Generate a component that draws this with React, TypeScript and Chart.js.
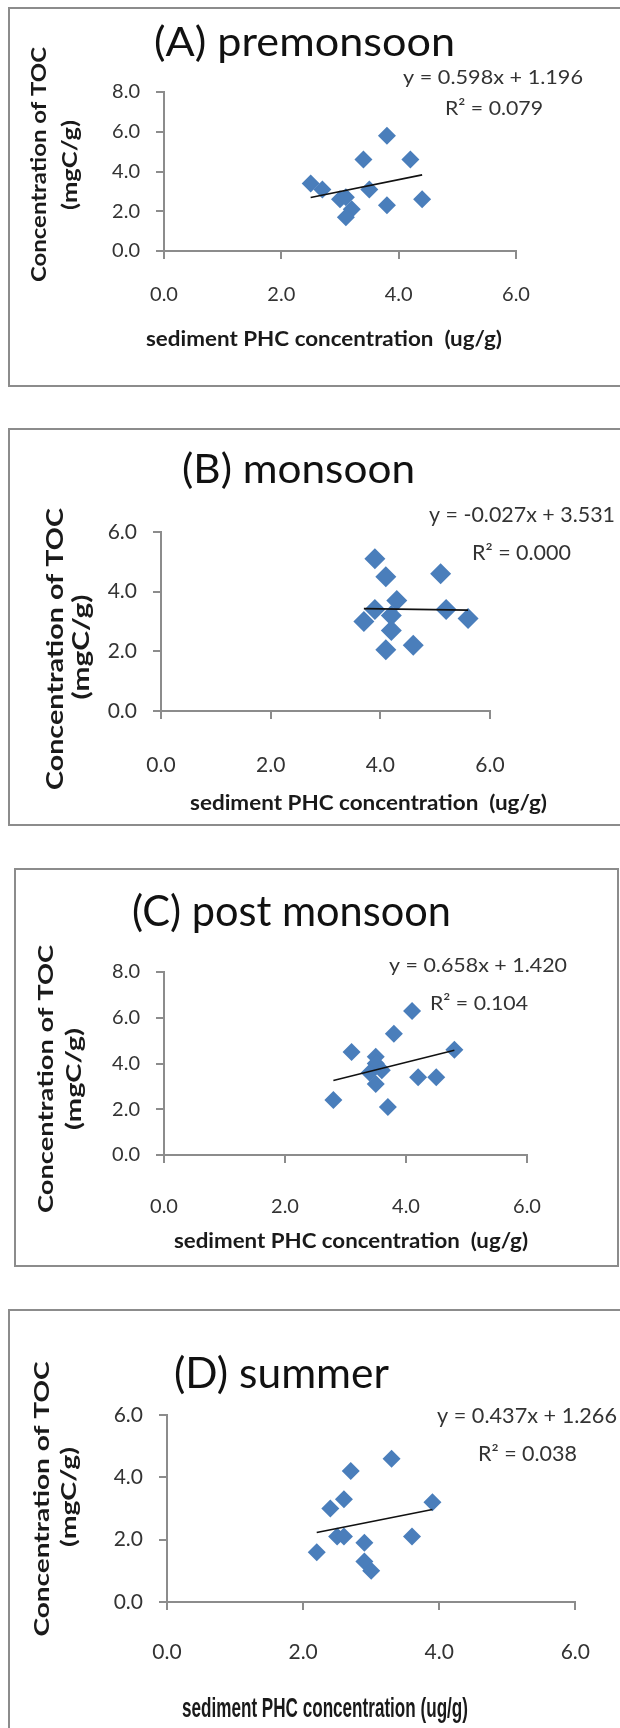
import React, { useEffect, useRef } from "react";
import { Chart, registerables } from "chart.js";

Chart.register(...registerables);

// ---------------- data ----------------
const xTickValues = [0, 2, 4, 6];
const xTickLabels = ["0.0", "2.0", "4.0", "6.0"];
const yTickValues8 = [0, 2, 4, 6, 8];
const yTickLabels8 = ["0.0", "2.0", "4.0", "6.0", "8.0"];
const yTickValues6 = [0, 2, 4, 6];
const yTickLabels6 = ["0.0", "2.0", "4.0", "6.0"];

// (A) premonsoon
const premonsoonPHC = [2.5, 2.7, 3.0, 3.1, 3.2, 3.1, 3.4, 3.5, 3.8, 3.8, 4.2, 4.4];
const premonsoonTOC = [3.4, 3.1, 2.6, 2.7, 2.1, 1.7, 4.6, 3.1, 5.8, 2.3, 4.6, 2.6];
const premonsoonTrendPHC = [2.5, 4.4];
const premonsoonTrendTOC = [2.69, 3.83];

// (B) monsoon
const monsoonPHC = [3.9, 4.1, 5.1, 3.9, 4.3, 3.7, 4.2, 4.2, 4.1, 4.6, 5.2, 5.6];
const monsoonTOC = [5.1, 4.5, 4.6, 3.4, 3.7, 3.0, 3.2, 2.7, 2.05, 2.2, 3.4, 3.1];
const monsoonTrendPHC = [3.7, 5.6];
const monsoonTrendTOC = [3.43, 3.38];

// (C) post monsoon
const postMonsoonPHC = [2.8, 3.1, 3.5, 3.5, 3.4, 3.6, 3.5, 3.8, 4.1, 3.7, 4.2, 4.5, 4.8];
const postMonsoonTOC = [2.4, 4.5, 4.3, 4.0, 3.6, 3.7, 3.1, 5.3, 6.3, 2.1, 3.4, 3.4, 4.6];
const postMonsoonTrendPHC = [2.8, 4.8];
const postMonsoonTrendTOC = [3.26, 4.58];

// (D) summer
const summerPHC = [2.2, 2.4, 2.6, 2.7, 2.5, 2.6, 2.9, 2.9, 3.0, 3.3, 3.6, 3.9];
const summerTOC = [1.6, 3.0, 3.3, 4.2, 2.1, 2.1, 1.9, 1.3, 1.0, 4.6, 2.1, 3.2];
const summerTrendPHC = [2.2, 3.9];
const summerTrendTOC = [2.23, 2.97];

// ---------------- layout / styling ----------------
const FONT = "Lato, 'Open Sans', sans-serif";
const MARKER = "#4a7ebb";
const AXIS = "#8c8c8c";

type TextItem = {
  text: string;
  x: number;
  y: number;
  size: number;
  width: number;
  bold?: boolean;
  rotate?: boolean;
  family?: string;
  color?: string;
};

type Panel = {
  key: string;
  top: number;
  height: number;
  box: { left: number; top: number; right: number; bottom: number };
  area: { left: number; right: number; top: number; bottom: number };
  yMax: number;
  yTickValues: number[];
  yTickLabels: string[];
  tickSize: number;
  xPad: number;
  radius: number;
  phc: number[];
  toc: number[];
  trendX: number[];
  trendY: number[];
  texts: TextItem[];
};

const panels: Panel[] = [
  {
    key: "A",
    top: 7,
    height: 380,
    box: { left: 8, top: 7, right: 640, bottom: 387 },
    area: { left: 164, right: 516, top: 92, bottom: 251 },
    yMax: 8,
    yTickValues: yTickValues8,
    yTickLabels: yTickLabels8,
    tickSize: 20,
    xPad: 24,
    radius: 9,
    phc: premonsoonPHC,
    toc: premonsoonTOC,
    trendX: premonsoonTrendPHC,
    trendY: premonsoonTrendTOC,
    texts: [
      { text: "(A) premonsoon", x: 304.5, y: 56, size: 41, width: 301, color: "#111" },
      { text: "y = 0.598x + 1.196", x: 493, y: 84, size: 20, width: 180, color: "#333" },
      { text: "R\u00b2 = 0.079", x: 494, y: 115, size: 20, width: 98, color: "#333" },
      { text: "Concentration of TOC", x: 46, y: 164.5, size: 21, width: 235, bold: true, rotate: true, color: "#1a1a1a" },
      { text: "(mgC/g)", x: 77, y: 165, size: 21, width: 90, bold: true, rotate: true, color: "#1a1a1a" },
      { text: "sediment PHC concentration  (ug/g)", x: 324, y: 346, size: 20, width: 356, bold: true, color: "#1a1a1a" },
    ],
  },
  {
    key: "B",
    top: 428,
    height: 398,
    box: { left: 8, top: 428, right: 640, bottom: 826 },
    area: { left: 161, right: 490, top: 532, bottom: 711 },
    yMax: 6,
    yTickValues: yTickValues6,
    yTickLabels: yTickLabels6,
    tickSize: 21,
    xPad: 34,
    radius: 10.5,
    phc: monsoonPHC,
    toc: monsoonTOC,
    trendX: monsoonTrendPHC,
    trendY: monsoonTrendTOC,
    texts: [
      { text: "(B) monsoon", x: 298.5, y: 483, size: 40, width: 233, color: "#111" },
      { text: "y = -0.027x + 3.531", x: 522, y: 522, size: 21, width: 186, color: "#333" },
      { text: "R\u00b2 = 0.000", x: 521.5, y: 560, size: 21, width: 99, color: "#333" },
      { text: "Concentration of TOC", x: 63, y: 649, size: 22, width: 282, bold: true, rotate: true, color: "#1a1a1a" },
      { text: "(mgC/g)", x: 89, y: 647, size: 22, width: 105, bold: true, rotate: true, color: "#1a1a1a" },
      { text: "sediment PHC concentration  (ug/g)", x: 368.5, y: 810, size: 21, width: 357, bold: true, color: "#1a1a1a" },
    ],
  },
  {
    key: "C",
    top: 868,
    height: 399,
    box: { left: 14, top: 868, right: 619, bottom: 1267 },
    area: { left: 164, right: 527, top: 972, bottom: 1155 },
    yMax: 8,
    yTickValues: yTickValues8,
    yTickLabels: yTickLabels8,
    tickSize: 20,
    xPad: 32,
    radius: 9,
    phc: postMonsoonPHC,
    toc: postMonsoonTOC,
    trendX: postMonsoonTrendPHC,
    trendY: postMonsoonTrendTOC,
    texts: [
      { text: "(C) post monsoon", x: 291.5, y: 926, size: 42, width: 319, color: "#111" },
      { text: "y = 0.658x + 1.420", x: 478, y: 972, size: 20, width: 178, color: "#333" },
      { text: "R\u00b2 = 0.104", x: 479, y: 1010, size: 20, width: 98, color: "#333" },
      { text: "Concentration of TOC", x: 53, y: 1079, size: 21, width: 268, bold: true, rotate: true, color: "#1a1a1a" },
      { text: "(mgC/g)", x: 81, y: 1079, size: 21, width: 102, bold: true, rotate: true, color: "#1a1a1a" },
      { text: "sediment PHC concentration  (ug/g)", x: 351, y: 1248, size: 21, width: 354, bold: true, color: "#1a1a1a" },
    ],
  },
  {
    key: "D",
    top: 1309,
    height: 419,
    box: { left: 8, top: 1309, right: 640, bottom: 1760 },
    area: { left: 167, right: 589, top: 1415, bottom: 1602 },
    yMax: 6,
    yTickValues: yTickValues6,
    yTickLabels: yTickLabels6,
    tickSize: 21,
    xPad: 30,
    radius: 9,
    phc: summerPHC,
    toc: summerTOC,
    trendX: summerTrendPHC,
    trendY: summerTrendTOC,
    texts: [
      { text: "(D) summer", x: 281.5, y: 1388, size: 42, width: 215, color: "#111" },
      { text: "y = 0.437x + 1.266", x: 527, y: 1423, size: 21, width: 180, color: "#333" },
      { text: "R\u00b2 = 0.038", x: 527.5, y: 1461, size: 21, width: 99, color: "#333" },
      { text: "Concentration of TOC", x: 49, y: 1499, size: 21, width: 275, bold: true, rotate: true, color: "#1a1a1a" },
      { text: "(mgC/g)", x: 76, y: 1497, size: 21, width: 100, bold: true, rotate: true, color: "#1a1a1a" },
      {
        text: "sediment PHC concentration (ug/g)",
        x: 325,
        y: 1717,
        size: 28,
        width: 286,
        bold: true,
        family: "'Liberation Sans Narrow', 'Liberation Sans', Arial, sans-serif",
        color: "#1a1a1a",
      },
    ],
  },
];

const PAGE_W = 620;

function makeTextPlugin(items: TextItem[], offsetY: number) {
  return {
    id: "panelText",
    afterDraw(chart: any) {
      const ctx: CanvasRenderingContext2D = chart.ctx;
      for (const t of items) {
        ctx.save();
        ctx.font = `${t.bold ? "bold " : ""}${t.size}px ${t.family || FONT}`;
        ctx.fillStyle = t.color || "#111";
        ctx.textAlign = "center";
        ctx.textBaseline = "alphabetic";
        const w = ctx.measureText(t.text).width;
        const sx = t.width && w > 0 ? t.width / w : 1;
        ctx.translate(t.x, t.y - offsetY);
        if (t.rotate) ctx.rotate(-Math.PI / 2);
        ctx.scale(sx, 1);
        ctx.fillText(t.text, 0, 0);
        ctx.restore();
      }
    },
  };
}

function PanelChart({ p }: { p: Panel }) {
  const ref = useRef<HTMLCanvasElement | null>(null);

  useEffect(() => {
    if (!ref.current) return;
    const T = p.top;
    const H = p.height;
    const points = p.phc.map((x, i) => ({ x, y: p.toc[i] }));
    const trend = p.trendX.map((x, i) => ({ x, y: p.trendY[i] }));
    const tickFont = { family: FONT, size: p.tickSize };

    const gridOpts = {
      display: true,
      drawOnChartArea: false,
      drawTicks: true,
      tickLength: 8,
      color: AXIS,
      lineWidth: 2,
    };

    const chart = new Chart(ref.current, {
      type: "scatter",
      data: {
        datasets: [
          {
            type: "line",
            data: trend,
            borderColor: "#111",
            borderWidth: 1.6,
            pointRadius: 0,
            pointHoverRadius: 0,
            fill: false,
            tension: 0,
          } as any,
          {
            data: points,
            pointStyle: "rectRot",
            pointRadius: p.radius,
            pointHoverRadius: p.radius,
            backgroundColor: MARKER,
            borderColor: MARKER,
            borderWidth: 0,
          },
        ],
      },
      options: {
        animation: false,
        responsive: false,
        devicePixelRatio: 1,
        events: [],
        layout: {
          padding: {
            left: 0,
            top: p.area.top - T,
            right: PAGE_W - p.area.right,
            bottom: 0,
          },
        },
        plugins: {
          legend: { display: false },
          tooltip: { enabled: false },
          title: { display: false },
        },
        scales: {
          x: {
            type: "linear",
            min: 0,
            max: 6,
            afterBuildTicks: (scale: any) => {
              scale.ticks = xTickValues.map((v) => ({ value: v }));
            },
            afterFit: (scale: any) => {
              scale.height = T + H - p.area.bottom;
            },
            ticks: {
              font: tickFont,
              color: "#333",
              padding: p.xPad,
              maxRotation: 0,
              callback: (_v: any, i: number) => xTickLabels[i],
            },
            grid: gridOpts,
            border: { display: true, color: AXIS, width: 2 },
          },
          y: {
            type: "linear",
            min: 0,
            max: p.yMax,
            afterBuildTicks: (scale: any) => {
              scale.ticks = p.yTickValues.map((v) => ({ value: v }));
            },
            afterFit: (scale: any) => {
              scale.width = p.area.left;
            },
            ticks: {
              font: tickFont,
              color: "#333",
              padding: 16,
              callback: (_v: any, i: number) => p.yTickLabels[i],
            },
            grid: gridOpts,
            border: { display: true, color: AXIS, width: 2 },
          },
        },
      } as any,
      plugins: [makeTextPlugin(p.texts, T)],
    });
    return () => chart.destroy();
  }, [p]);

  const b = p.box;
  return (
    <>
      <div
        style={{
          position: "absolute",
          left: b.left,
          top: b.top,
          width: b.right - b.left,
          height: b.bottom - b.top,
          boxSizing: "border-box",
          border: `2px solid ${AXIS}`,
          background: "#fff",
        }}
      />
      <canvas
        ref={ref}
        width={PAGE_W}
        height={p.height}
        style={{
          position: "absolute",
          left: 0,
          top: p.top,
          width: PAGE_W,
          height: p.height,
        }}
      />
    </>
  );
}

export default function App() {
  return (
    <div
      style={{
        position: "absolute",
        left: 0,
        top: 0,
        width: PAGE_W,
        height: 1728,
        overflow: "hidden",
        background: "#fff",
      }}
    >
      {panels.map((p) => (
        <PanelChart key={p.key} p={p} />
      ))}
    </div>
  );
}
